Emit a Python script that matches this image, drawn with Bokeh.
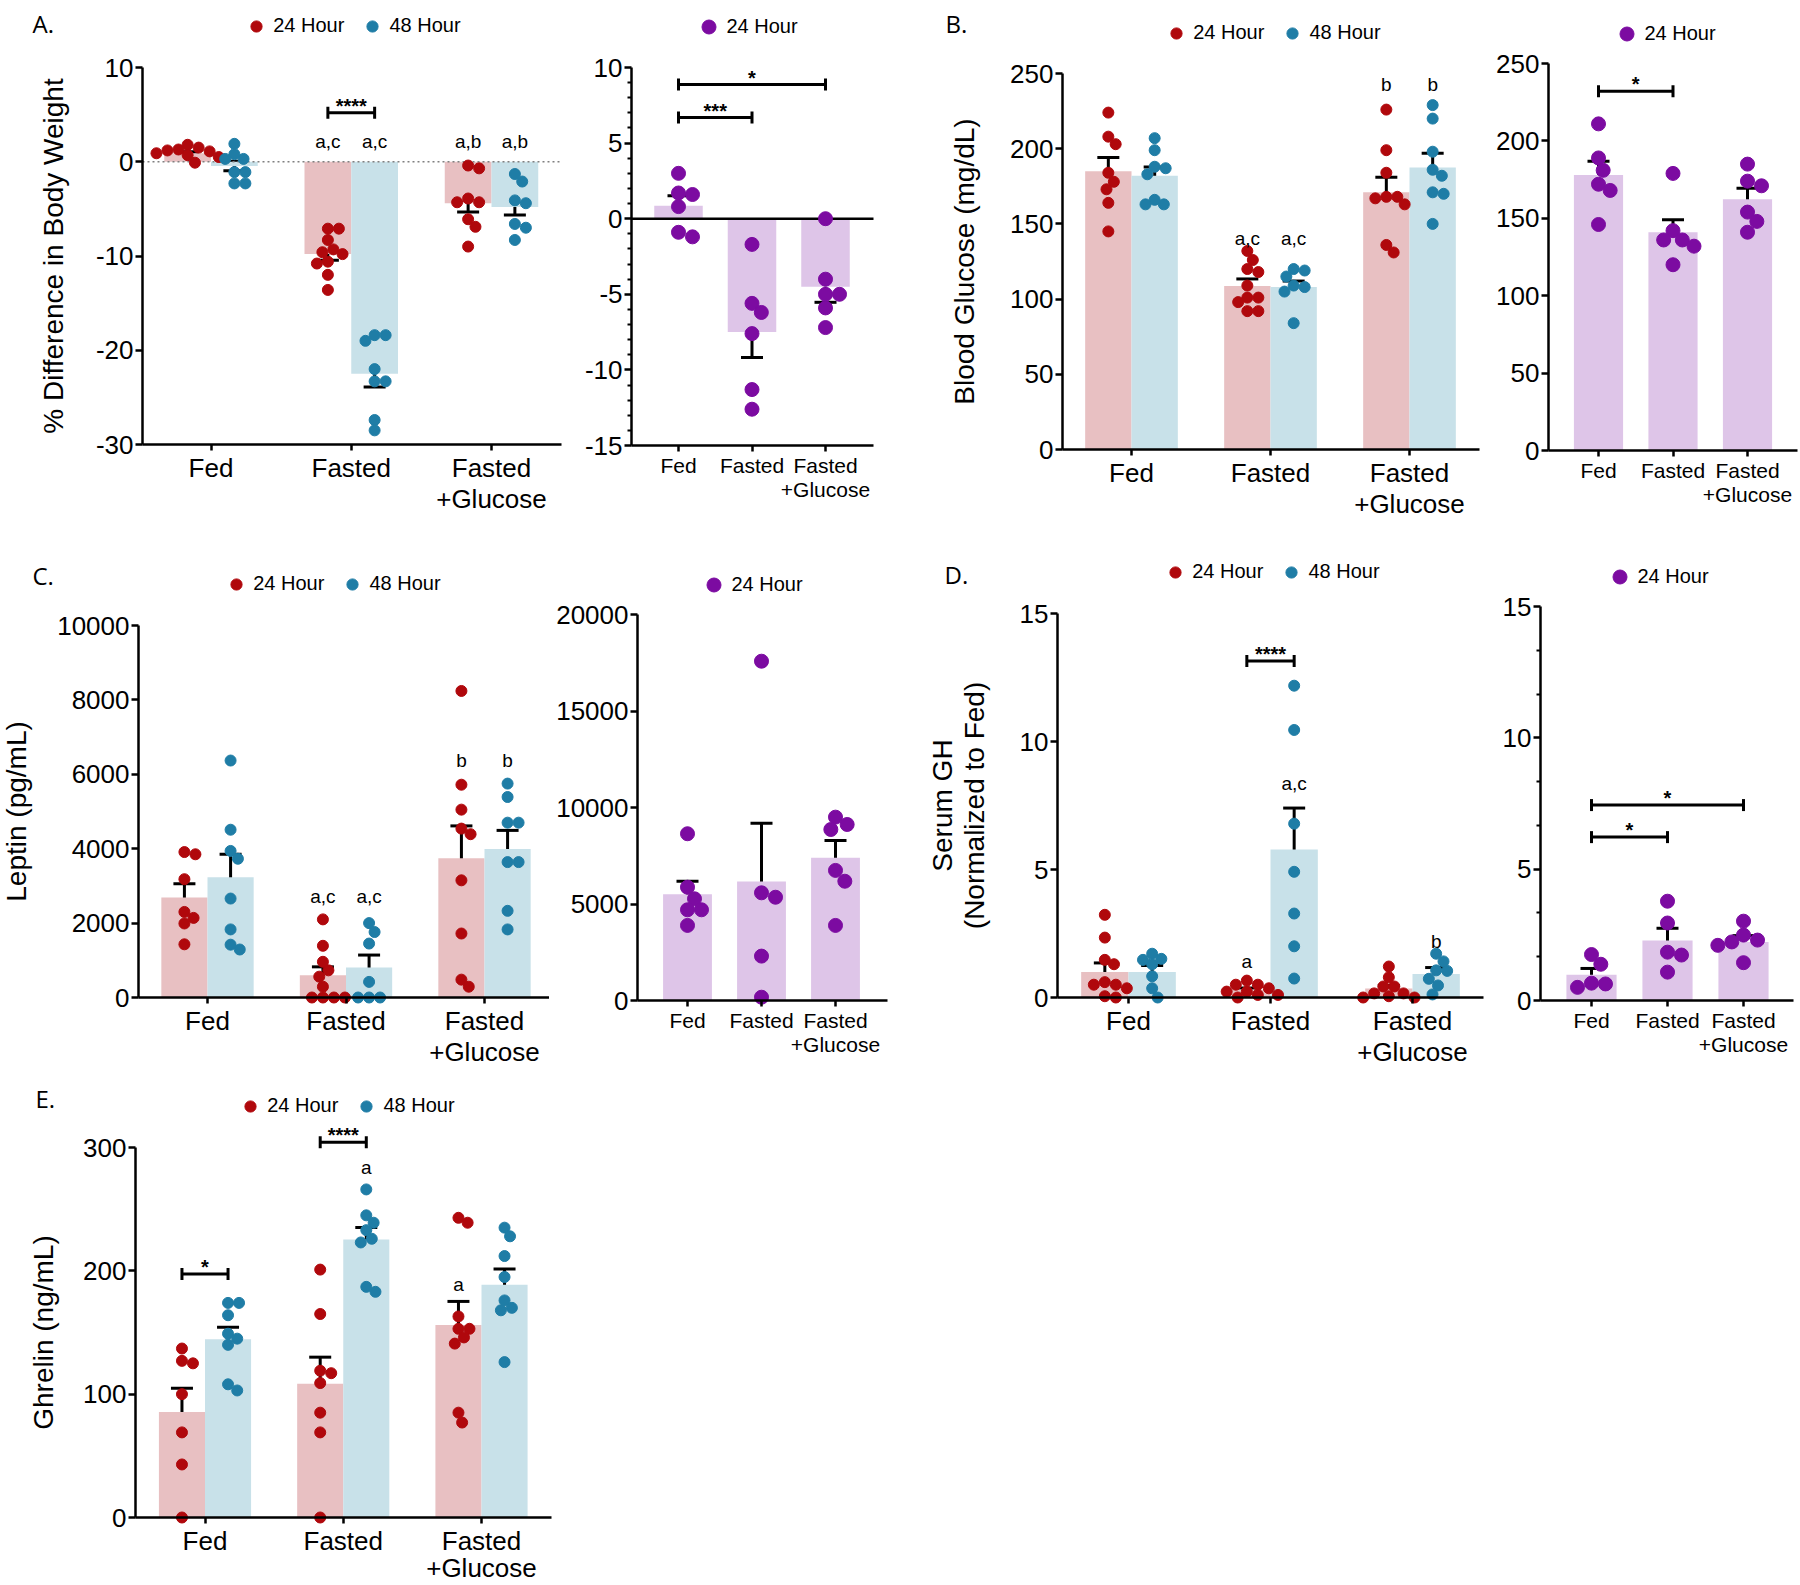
import numpy as np
from bokeh.plotting import figure
from bokeh.models import (Range1d, FixedTicker, Whisker, TeeHead, ColumnDataSource,
                          Legend, LegendItem, Label)
from bokeh.layouts import row, column
from bokeh.core.properties import value
from bokeh.embed import file_html
from bokeh.resources import INLINE

FONT = "Liberation Sans"
PANEL_FONT = "Open Sans"

# ---------------- data ----------------
CATEGORIES = ["Fed", "Fasted", "Fasted\n+Glucose"]
SERIES_24 = "24 Hour"
SERIES_48 = "48 Hour"

# A. % difference in body weight
bw_24h = [[1.1, 1.5, 1.2, 0.5, 0.9, 1.8, 1.3, -0.1, 0.7],
          [-7.1, -7.1, -8.3, -9.3, -9.8, -9.6, -10.6, -10.8, -12.0, -13.6],
          [-0.4, -0.7, -4.3, -4.3, -3.9, -6.1, -6.9, -9.0]]
bw_24h_mean = [0.9, -9.8, -4.4]
bw_24h_sem = [0.17, 0.65, 0.94]
bw_48h = [[0.3, 1.9, 0.8, 0.3, -1.1, -1.1, -2.3, -2.3],
          [-18.4, -19.0, -18.4, -22.0, -23.3, -23.3, -27.4, -28.5],
          [-1.3, -2.1, -4.1, -4.4, -6.6, -7.0, -8.3]]
bw_48h_mean = [-0.45, -22.5, -4.8]
bw_48h_sem = [0.5, 1.4, 0.85]
bw_24h_b = [[3.0, 1.7, 1.6, 0.8, -1.2, -0.9],
            [-1.7, -5.6, -6.2, -7.6, -11.3, -12.6],
            [0.0, -4.0, -5.0, -5.0, -5.9, -7.2]]
bw_24h_b_mean = [0.85, -7.5, -4.5]
bw_24h_b_sem = [0.66, 1.68, 1.03]

# B. blood glucose (mg/dL)
glu_24h = [[224, 203, 208, 184, 178, 173, 164, 145],
           [132, 126, 120, 118, 109, 101, 98, 101, 92, 92],
           [226, 199, 184, 167, 168, 168, 163, 136, 131]]
glu_24h_mean = [185, 108.7, 171]
glu_24h_sem = [9.2, 4.7, 10]
glu_48h = [[207, 199, 187, 188, 183, 163, 166, 163],
           [120, 119, 115, 109, 108, 105, 84],
           [229, 220, 198, 186, 182, 171, 170, 150]]
glu_48h_mean = [182, 108, 187.5]
glu_48h_sem = [5.8, 4, 9.5]
glu_24h_b = [[211, 189, 181, 172, 168, 146],
             [179, 142, 136, 136, 132, 120],
             [185, 174, 171, 154, 148, 141]]
glu_24h_b_mean = [178, 141, 162.3]
glu_24h_b_sem = [8.9, 8.1, 7.1]

# C. leptin (pg/mL)
lep_24h = [[3850, 3910, 3180, 2300, 2140, 1990, 1430],
           [2100, 1390, 960, 730, 560, 290, 0, 0, 0, 0],
           [8240, 5720, 5050, 4390, 4540, 3150, 1720, 480, 290]]
lep_24h_mean = [2690, 600, 3740]
lep_24h_sem = [370, 224, 873]
lep_48h = [[6370, 4510, 3730, 3940, 2660, 1830, 1290, 1420],
           [2000, 1760, 1450, 420, 0, 0, 0],
           [5750, 5390, 4700, 4700, 3640, 3640, 2330, 1830]]
lep_48h_mean = [3230, 806, 3990]
lep_48h_sem = [620, 335, 502]
lep_24h_b = [[8640, 5870, 5270, 4700, 4700, 3890],
             [17580, 5580, 5350, 2300, 170],
             [9500, 9120, 8860, 6740, 6180, 3890]]
lep_24h_b_mean = [5500, 6170, 7400]
lep_24h_b_sem = [674, 3014, 890]

# D. serum GH (normalized to fed)
gh_24h = [[3.23, 2.34, 1.47, 1.3, 0.6, 0.5, 0.5, 0.36, 0.05, 0.0],
          [0.66, 0.5, 0.5, 0.23, 0.23, 0.1, 0.1, 0.36, 0.0],
          [1.21, 0.79, 0.43, 0.43, 0.16, 0.16, 0.0, 0.05, 0.0]]
gh_24h_mean = [1.0, 0.3, 0.35]
gh_24h_sem = [0.35, 0.07, 0.12]
gh_48h = [[1.71, 1.51, 1.3, 1.47, 0.83, 0.36, 0.0],
          [12.18, 10.45, 6.79, 4.91, 3.28, 2.0, 0.74],
          [1.71, 1.41, 1.06, 1.04, 0.73, 0.47, 0.12]]
gh_48h_mean = [1.0, 5.78, 0.92]
gh_48h_sem = [0.25, 1.62, 0.25]
gh_24h_b = [[1.75, 1.38, 0.5, 0.66, 0.63],
            [3.78, 2.95, 1.84, 1.73, 1.08],
            [3.02, 2.49, 2.3, 2.23, 2.1, 1.44]]
gh_24h_b_mean = [0.98, 2.28, 2.23]
gh_24h_b_sem = [0.24, 0.47, 0.24]

# E. ghrelin (ng/mL)
ghr_24h = [[137, 125, 127, 100, 69, 43, 0],
           [201, 165, 117, 119, 109, 85, 69, 0],
           [243, 239, 163, 153, 153, 146, 141, 85, 77]]
ghr_24h_mean = [85.5, 108.5, 156]
ghr_24h_sem = [19.2, 21.5, 19.2]
ghr_48h = [[174, 174, 164, 149, 145, 140, 108, 103],
           [266, 245, 239, 233, 226, 223, 183, 187],
           [235, 228, 212, 195, 176, 170, 168, 126]]
ghr_48h_mean = [144.6, 225.5, 188.7]
ghr_48h_sem = [9.7, 9.7, 12.8]

# ---------------- styles / layout ----------------
RED_DOT, RED_BAR = "#B0080C", "#E8C0C2"
BLUE_DOT, BLUE_BAR = "#1F7DA6", "#C8E1E9"
PURPLE_DOT, PURPLE_BAR = "#7C0BA1", "#DEC5E8"
BW2 = 1.0 / 3.0
BW1 = 0.66

# panel box (x0, x1, y0, y1), axis extent (left, right), y-axis pixel span, category pixel centres
LAYOUT = {
    "A1": dict(box=(0, 576, 0, 533), axis=(142, 561), ypx=(67, 444), cats=(210.5, 491)),
    "A2": dict(box=(576, 905, 0, 533), axis=(631, 873), ypx=(67, 445), cats=(678, 825)),
    "B1": dict(box=(905, 1488, 0, 533), axis=(1062, 1479), ypx=(73, 449), cats=(1131, 1409)),
    "B2": dict(box=(1488, 1799, 0, 533), axis=(1548, 1797), ypx=(63, 450), cats=(1598, 1747)),
    "C1": dict(box=(0, 549, 533, 1072), axis=(138, 549), ypx=(625, 997), cats=(207, 484)),
    "C2": dict(box=(549, 910, 533, 1072), axis=(637, 887), ypx=(614, 1000), cats=(687, 835)),
    "D1": dict(box=(910, 1495, 533, 1072), axis=(1057, 1483), ypx=(613, 997), cats=(1128, 1412)),
    "D2": dict(box=(1495, 1799, 533, 1072), axis=(1540, 1793), ypx=(606, 1000), cats=(1591, 1743)),
    "E": dict(box=(0, 570, 1072, 1584), axis=(135, 551), ypx=(1147, 1517), cats=(204.5, 481)),
}


def swarm_offsets(vals, ppx, ppy, d):
    order = sorted(range(len(vals)), key=lambda k: -vals[k])
    cands = [0.0]
    for k in range(1, 80):
        cands += [k * d / 6.0, -k * d / 6.0]
    placed, out = [], [0.0] * len(vals)
    lim = (0.92 * d) ** 2
    for k in order:
        py = vals[k] * ppy
        o = 0.0
        for o in cands:
            if all((o - qx) ** 2 + (py - qy) ** 2 >= lim for qx, qy in placed):
                break
        placed.append((o, py))
        out[k] = o / ppx
    return out


def panel(key, ylim, yticks, series, minor=(), ytitle=None, ytitle_standoff=28,
          letters=(), brackets=(), zero=None, small=False, legend=None, plabel=None, xlh=None):
    lay = LAYOUT[key]
    x0, x1, y0, y1 = lay["box"]
    al, ar = lay["axis"]
    ytp, ybp = lay["ypx"]
    c0, c2 = lay["cats"]
    W, H = x1 - x0, y1 - y0
    ppx = (c2 - c0) / 2.0
    ymin, ymax = ylim
    ppy = (ybp - ytp) / float(ymax - ymin)
    xd = lambda px: (px - c0) / ppx
    yd = lambda py: ymin + (ybp - py) / ppy
    p = figure(width=W, height=H, output_backend="svg", toolbar_location=None, tools="",
               title=None, x_range=Range1d(xd(x0), xd(x1)), y_range=Range1d(yd(y1), yd(y0)),
               min_border=0, min_border_left=0, min_border_right=0, min_border_top=0,
               min_border_bottom=0)
    p.outline_line_color = None
    p.xgrid.visible = False
    p.ygrid.visible = False
    p.background_fill_color = "white"
    p.border_fill_color = "white"

    xa = p.xaxis[0]
    xa.fixed_location = ymin
    xa.bounds = (xd(al), xd(ar))
    xa.ticker = FixedTicker(ticks=[0, 1, 2], minor_ticks=[])
    xa.major_label_overrides = {0: CATEGORIES[0], 1: CATEGORIES[1], 2: CATEGORIES[2]}
    xa.major_label_text_font = FONT
    xa.major_label_text_font_size = "21px" if small else "26px"
    xa.major_label_text_line_height = xlh if xlh else (1.07 if small else 1.04)
    xa.major_label_text_color = "black"
    xa.major_label_standoff = 2
    xa.major_tick_out = 6
    xa.major_tick_in = 0
    xa.minor_tick_line_color = None
    xa.axis_line_width = 2.5
    xa.major_tick_line_width = 2.5
    xa.axis_line_color = "black"

    ya = p.yaxis[0]
    ya.fixed_location = xd(al)
    ya.bounds = (ymin, ymax)
    ya.ticker = FixedTicker(ticks=list(yticks), minor_ticks=list(minor))
    ya.major_label_overrides = {v: str(v) for v in yticks}
    ya.major_label_text_font = FONT
    ya.major_label_text_font_size = "26px"
    ya.major_label_text_color = "black"
    ya.major_label_standoff = 2
    ya.major_tick_out = 7
    ya.major_tick_in = 0
    ya.minor_tick_out = 4
    ya.minor_tick_in = 0
    ya.minor_tick_line_width = 2
    ya.axis_line_width = 2.5
    ya.major_tick_line_width = 2.5
    ya.axis_line_color = "black"
    if ytitle:
        ya.axis_label = ytitle
        ya.axis_label_text_font = FONT
        ya.axis_label_text_font_size = "28px"
        ya.axis_label_text_font_style = "normal"
        ya.axis_label_text_line_height = 1.03
        ya.axis_label_text_color = "black"
        ya.axis_label_standoff = ytitle_standoff

    # bars
    for s in series:
        xb = [i + s["offset"] for i in range(3)]
        p.vbar(x=xb, top=s["mean"], bottom=0, width=s["width"],
               fill_color=s["bar"], line_color=None)
    if zero == "dotted":
        p.segment(x0=[xd(al)], y0=[0], x1=[xd(ar)], y1=[0], line_color="#808080",
                  line_dash="2 3", line_width=1.5)
    elif zero == "solid":
        p.segment(x0=[xd(al)], y0=[0], x1=[xd(ar)], y1=[0], line_color="black", line_width=2.5)
    # individual animals
    rends = []
    for s in series:
        xs, ys = [], []
        for i, vals in enumerate(s["data"]):
            offs = swarm_offsets(vals, ppx, ppy, s["size"])
            xs += [i + s["offset"] + o for o in offs]
            ys += list(vals)
        rends.append(p.scatter(x=xs, y=ys, size=s["size"], fill_color=s["dot"], line_color=s["dot"]))
    # mean +/- SEM
    for s in series:
        xb = [i + s["offset"] for i in range(3)]
        src = ColumnDataSource(dict(base=xb,
                                    upper=[m + e for m, e in zip(s["mean"], s["sem"])],
                                    lower=[m - e for m, e in zip(s["mean"], s["sem"])]))
        p.add_layout(Whisker(base="base", upper="upper", lower="lower", source=src,
                             line_width=3, line_color="black",
                             upper_head=TeeHead(size=22, line_width=3, line_color="black"),
                             lower_head=TeeHead(size=22, line_width=3, line_color="black")))
    # letters
    if letters:
        lx = [c + series[si]["offset"] for c, si, y, t in letters]
        p.text(x=lx, y=[l[2] for l in letters], text=[l[3] for l in letters],
               text_font=value(FONT), text_font_size="19px", text_color="black",
               text_align="center", text_baseline="middle")
    # significance brackets
    if brackets:
        bx1 = [c1 + series[s1]["offset"] for (c1, s1), (c2_, s2), y, t in brackets]
        bx2 = [c2_ + series[s2]["offset"] for (c1, s1), (c2_, s2), y, t in brackets]
        by = [b[2] for b in brackets]
        src = ColumnDataSource(dict(base=by, lower=bx1, upper=bx2))
        p.add_layout(Whisker(base="base", upper="upper", lower="lower", source=src,
                             dimension="width", line_width=3, line_color="black",
                             upper_head=TeeHead(size=12, line_width=3, line_color="black"),
                             lower_head=TeeHead(size=12, line_width=3, line_color="black")))
        p.text(x=[(a + b) / 2 for a, b in zip(bx1, bx2)], y=by, text=[b[3] for b in brackets],
               text_font=value(FONT), text_font_size="20px", text_font_style="bold",
               text_color="black", text_align="center", text_baseline="alphabetic", y_offset=-7)
    # legend
    if legend:
        lxp, lyp = legend
        gw = series[0]["lsize"] / 0.4
        items = [LegendItem(label=s["name"], renderers=[r]) for s, r in zip(series, rends)]
        leg = Legend(items=items, location=(lxp - gw / 2 - x0, y1 - (lyp + gw / 2)),
                     orientation="horizontal", glyph_width=int(round(gw)), glyph_height=int(round(gw)),
                     label_standoff=series[0]["lstand"], spacing=14, padding=0, margin=0,
                     border_line_color=None, background_fill_alpha=0,
                     label_text_font=FONT, label_text_font_size="20px", label_text_color="black",
                     label_height=20, label_width=10)
        p.add_layout(leg)
    # panel letter
    if plabel:
        t, px, py = plabel
        p.add_layout(Label(x=px - x0, y=y1 - py, x_units="screen", y_units="screen", text=t,
                           text_font=PANEL_FONT, text_font_size="24px", text_color="black",
                           text_baseline="alphabetic", text_align="left"))
    return p


def two(d24, m24, s24, d48, m48, s48):
    return [dict(name=SERIES_24, data=d24, mean=m24, sem=s24, dot=RED_DOT, bar=RED_BAR, size=11,
                 lsize=11, lstand=3, offset=-BW2 / 2, width=BW2),
            dict(name=SERIES_48, data=d48, mean=m48, sem=s48, dot=BLUE_DOT, bar=BLUE_BAR, size=11,
                 lsize=11, lstand=3, offset=BW2 / 2, width=BW2)]


def one(d, m, s):
    return [dict(name=SERIES_24, data=d, mean=m, sem=s, dot=PURPLE_DOT, bar=PURPLE_BAR, size=14,
                 lsize=14, lstand=1, offset=0.0, width=BW1)]


pA1 = panel("A1", (-30, 10), [-30, -20, -10, 0, 10],
            two(bw_24h, bw_24h_mean, bw_24h_sem, bw_48h, bw_48h_mean, bw_48h_sem),
            ytitle="% Difference in Body Weight", ytitle_standoff=24,
            letters=[(1, 0, 2.1, "a,c"), (1, 1, 2.1, "a,c"), (2, 0, 2.1, "a,b"), (2, 1, 2.1, "a,b")],
            brackets=[((1, 0), (1, 1), 5.2, "****")], zero="dotted",
            legend=(256, 26), plabel=("A.", 32, 23))

pA2 = panel("A2", (-15, 10), [-15, -10, -5, 0, 5, 10], one(bw_24h_b, bw_24h_b_mean, bw_24h_b_sem),
            minor=[v for v in range(-15, 11) if v % 5 != 0],
            brackets=[((0, 0), (2, 0), 8.87, "*"), ((0, 0), (1, 0), 6.69, "***")],
            zero="solid", small=True, legend=(708, 26))

pB1 = panel("B1", (0, 250), [0, 50, 100, 150, 200, 250],
            two(glu_24h, glu_24h_mean, glu_24h_sem, glu_48h, glu_48h_mean, glu_48h_sem),
            ytitle="Blood Glucose (mg/dL)", ytitle_standoff=27,
            letters=[(1, 0, 140, "a,c"), (1, 1, 140, "a,c"), (2, 0, 243, "b"), (2, 1, 243, "b")],
            legend=(1176, 33), plabel=("B.", 945, 23))

pB2 = panel("B2", (0, 250), [0, 50, 100, 150, 200, 250], one(glu_24h_b, glu_24h_b_mean, glu_24h_b_sem),
            brackets=[((0, 0), (1, 0), 232, "*")], small=True, legend=(1626, 33))

pC1 = panel("C1", (0, 10000), [0, 2000, 4000, 6000, 8000, 10000],
            two(lep_24h, lep_24h_mean, lep_24h_sem, lep_48h, lep_48h_mean, lep_48h_sem),
            ytitle="Leptin (pg/mL)", ytitle_standoff=22,
            letters=[(1, 0, 2715, "a,c"), (1, 1, 2715, "a,c"), (2, 0, 6370, "b"), (2, 1, 6370, "b")],
            legend=(236, 584), plabel=("C.", 32, 575))

pC2 = panel("C2", (0, 20000), [0, 5000, 10000, 15000, 20000], one(lep_24h_b, lep_24h_b_mean, lep_24h_b_sem),
            small=True, legend=(713, 584))

pD1 = panel("D1", (0, 15), [0, 5, 10, 15],
            two(gh_24h, gh_24h_mean, gh_24h_sem, gh_48h, gh_48h_mean, gh_48h_sem),
            ytitle="Serum GH\n(Normalized to Fed)", ytitle_standoff=27,
            letters=[(1, 0, 1.42, "a"), (1, 1, 8.37, "a,c"), (2, 1, 2.18, "b")],
            brackets=[((1, 0), (1, 1), 13.14, "****")],
            legend=(1175, 572), plabel=("D.", 944, 574))

pD2 = panel("D2", (0, 15), [0, 5, 10, 15], one(gh_24h_b, gh_24h_b_mean, gh_24h_b_sem),
            minor=[5 / 3, 10 / 3, 20 / 3, 25 / 3, 35 / 3, 40 / 3],
            brackets=[((0, 0), (2, 0), 7.44, "*"), ((0, 0), (1, 0), 6.22, "*")],
            small=True, legend=(1619, 576))

pE = panel("E", (0, 300), [0, 100, 200, 300],
           two(ghr_24h, ghr_24h_mean, ghr_24h_sem, ghr_48h, ghr_48h_mean, ghr_48h_sem),
           ytitle="Ghrelin (ng/mL)", ytitle_standoff=21,
           letters=[(1, 1, 284, "a"), (2, 0, 189, "a")],
           brackets=[((0, 0), (0, 1), 197.5, "*"), ((1, 0), (1, 1), 304.3, "****")],
           legend=(250, 1106), plabel=("E.", 35, 1098), xlh=0.93)

layout = column(row(pA1, pA2, pB1, pB2), row(pC1, pC2, pD1, pD2), row(pE))

open("out.html", "w").write(file_html(layout, INLINE))
